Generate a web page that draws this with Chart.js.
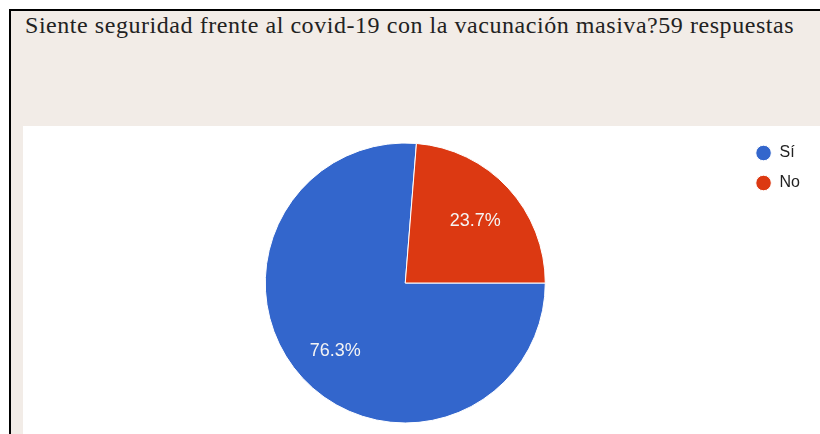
<!DOCTYPE html>
<html>
<head>
<meta charset="utf-8">
<script src="https://cdn.jsdelivr.net/npm/chart.js@4.4.1/dist/chart.umd.min.js"></script>
<style>
  html, body { margin: 0; padding: 0; background: #fff; width: 820px; height: 434px; overflow: hidden; }
  .frame {
    position: absolute; left: 9px; top: 9px; right: 0; bottom: 0;
    border-top: 2px solid #000; border-left: 2px solid #000;
    background: #f2ece7;
  }
  .title {
    position: absolute; left: 25px; top: 12px;
    font-family: "Liberation Serif", "Times New Roman", serif;
    font-size: 24px; letter-spacing: 0.55px; color: #222; white-space: nowrap;
  }
  .panel {
    position: absolute; left: 23px; top: 126px; width: 797px; height: 309px;
    background: #fff;
  }
</style>
</head>
<body>
<div class="frame"></div>
<div class="title">Siente seguridad frente al covid-19 con la vacunación masiva?59 respuestas</div>
<div class="panel"><canvas id="pie"></canvas></div>
<script>
const categories = ['Sí', 'No'];
const responses = [45, 14];
const sliceColors = ['#3366cc', '#dc3912'];

const total = responses.reduce((a, b) => a + b, 0);

// percentage text inside each slice, like google forms does
const sliceLabels = {
  id: 'sliceLabels',
  afterDatasetsDraw(chart) {
    const ctx = chart.ctx;
    const meta = chart.getDatasetMeta(0);
    ctx.save();
    ctx.font = '18px "Liberation Sans", Arial, sans-serif';
    ctx.fillStyle = '#f4f4f4';
    ctx.textAlign = 'center';
    ctx.textBaseline = 'middle';
    meta.data.forEach((arc, i) => {
      const p = arc.getProps(['x', 'y', 'startAngle', 'endAngle', 'outerRadius'], true);
      const mid = (p.startAngle + p.endAngle) / 2;
      const r = p.outerRadius * 0.68;
      const pct = (responses[i] / total * 100).toFixed(1) + '%';
      ctx.fillText(pct, p.x + Math.cos(mid) * r, p.y + Math.sin(mid) * r + 3);
    });
    ctx.restore();
  }
};

new Chart(document.getElementById('pie'), {
  type: 'pie',
  data: {
    labels: categories,
    datasets: [{
      data: responses,
      backgroundColor: sliceColors,
      borderColor: '#ffffff',
      borderWidth: 1,
      hoverOffset: 0
    }]
  },
  options: {
    responsive: true,
    maintainAspectRatio: false,
    animation: false,
    rotation: 90,
    radius: 140,
    layout: { padding: { top: 5, left: 46, right: 10, bottom: 0 } },
    plugins: {
      tooltip: { enabled: false },
      legend: {
        position: 'right',
        align: 'start',
        labels: {
          usePointStyle: true,
          pointStyle: 'circle',
          boxHeight: 11,
          padding: 14,
          color: '#222',
          font: { family: '"Liberation Sans", Arial, sans-serif', size: 16 }
        }
      }
    }
  },
  plugins: [sliceLabels]
});
</script>
</body>
</html>
